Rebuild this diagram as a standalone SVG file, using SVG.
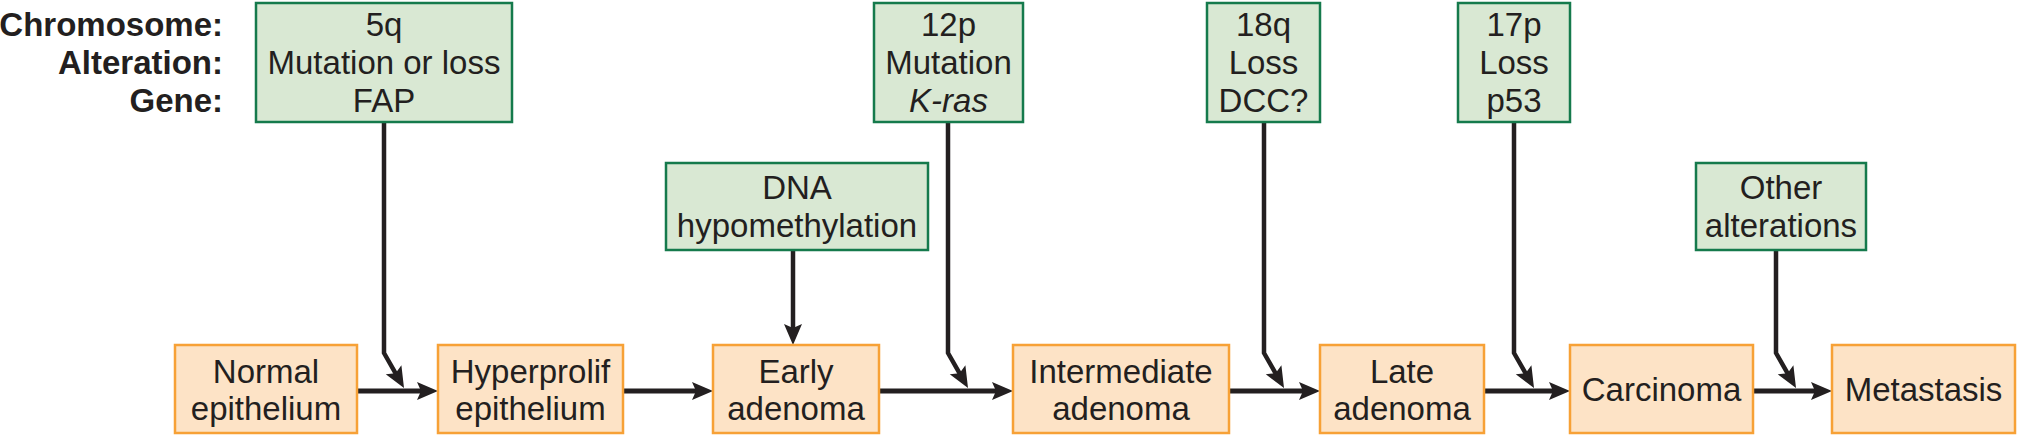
<svg xmlns="http://www.w3.org/2000/svg" width="2018" height="436" viewBox="0 0 2018 436">
<style>
.t{font-family:"Liberation Sans",Arial,sans-serif;font-size:33px;fill:#231f20;text-anchor:middle}
.lbl{font-family:"Liberation Sans",Arial,sans-serif;font-size:33px;font-weight:bold;fill:#231f20;text-anchor:end}
.g{fill:#d9e8d3;stroke:#157a4c;stroke-width:2.5}
.o{fill:#fde3c6;stroke:#f7a136;stroke-width:2.5}
.c{fill:none;stroke:#231f20;stroke-width:4.5;stroke-linejoin:miter}
.m{fill:none;stroke:#231f20;stroke-width:5}
</style>
<defs>
<marker id="ah" markerUnits="userSpaceOnUse" markerWidth="22" markerHeight="20" viewBox="0 0 22 20" refX="9" refY="10" orient="auto">
<path d="M0,1 L21,10 L0,19 L4,10 z" fill="#231f20"/>
</marker>
</defs>
<rect width="2018" height="436" fill="#ffffff"/>
<g id="labels">
<text class="lbl" x="223" y="36">Chromosome:</text>
<text class="lbl" x="223" y="74">Alteration:</text>
<text class="lbl" x="223" y="112">Gene:</text>
</g>
<g id="connectors">
<line class="m" x1="357" y1="391" x2="426" y2="391" marker-end="url(#ah)"/>
<line class="m" x1="623" y1="391" x2="701" y2="391" marker-end="url(#ah)"/>
<line class="m" x1="879" y1="391" x2="1001" y2="391" marker-end="url(#ah)"/>
<line class="m" x1="1229" y1="391" x2="1308" y2="391" marker-end="url(#ah)"/>
<line class="m" x1="1484" y1="391" x2="1558" y2="391" marker-end="url(#ah)"/>
<line class="m" x1="1753" y1="391" x2="1820" y2="391" marker-end="url(#ah)"/>
<polyline class="c" points="384,122 384,353 398.05,377.58" marker-end="url(#ah)"/>
<polyline class="c" points="948,122 948,353 962.05,377.58" marker-end="url(#ah)"/>
<polyline class="c" points="1264,122 1264,353 1278.05,377.58" marker-end="url(#ah)"/>
<polyline class="c" points="1514,122 1514,353 1528.05,377.58" marker-end="url(#ah)"/>
<polyline class="c" points="1776,250 1776,353 1790.05,377.58" marker-end="url(#ah)"/>
<line class="c" x1="793" y1="250" x2="793" y2="333" marker-end="url(#ah)"/>
</g>
<g id="n-5q">
<rect class="g" x="256" y="3" width="256" height="119"/>
<text class="t" x="384" y="36">5q</text>
<text class="t" x="384" y="74">Mutation or loss</text>
<text class="t" x="384" y="112">FAP</text>
</g>
<g id="n-dna">
<rect class="g" x="666" y="163" width="262" height="87"/>
<text class="t" x="797" y="199">DNA</text>
<text class="t" x="797" y="237">hypomethylation</text>
</g>
<g id="n-12p">
<rect class="g" x="874" y="3" width="149" height="119"/>
<text class="t" x="948.5" y="36">12p</text>
<text class="t" x="948.5" y="74">Mutation</text>
<text class="t" x="948.5" y="112" font-style="italic">K-ras</text>
</g>
<g id="n-18q">
<rect class="g" x="1207" y="3" width="113" height="119"/>
<text class="t" x="1263.5" y="36">18q</text>
<text class="t" x="1263.5" y="74">Loss</text>
<text class="t" x="1263.5" y="112">DCC?</text>
</g>
<g id="n-17p">
<rect class="g" x="1458" y="3" width="112" height="119"/>
<text class="t" x="1514" y="36">17p</text>
<text class="t" x="1514" y="74">Loss</text>
<text class="t" x="1514" y="112">p53</text>
</g>
<g id="n-other">
<rect class="g" x="1696" y="163" width="170" height="87"/>
<text class="t" x="1781" y="199">Other</text>
<text class="t" x="1781" y="237">alterations</text>
</g>
<g id="n-normal">
<rect class="o" x="175" y="345" width="182" height="88"/>
<text class="t" x="266" y="383">Normal</text>
<text class="t" x="266" y="420">epithelium</text>
</g>
<g id="n-hyper">
<rect class="o" x="438" y="345" width="185" height="88"/>
<text class="t" x="530.5" y="383">Hyperprolif</text>
<text class="t" x="530.5" y="420">epithelium</text>
</g>
<g id="n-early">
<rect class="o" x="713" y="345" width="166" height="88"/>
<text class="t" x="796" y="383">Early</text>
<text class="t" x="796" y="420">adenoma</text>
</g>
<g id="n-inter">
<rect class="o" x="1013" y="345" width="216" height="88"/>
<text class="t" x="1121" y="383">Intermediate</text>
<text class="t" x="1121" y="420">adenoma</text>
</g>
<g id="n-late">
<rect class="o" x="1320" y="345" width="164" height="88"/>
<text class="t" x="1402" y="383">Late</text>
<text class="t" x="1402" y="420">adenoma</text>
</g>
<g id="n-carc">
<rect class="o" x="1570" y="345" width="183" height="88"/>
<text class="t" x="1661.5" y="401">Carcinoma</text>
</g>
<g id="n-meta">
<rect class="o" x="1832" y="345" width="183" height="88"/>
<text class="t" x="1923.5" y="401">Metastasis</text>
</g>
</svg>
